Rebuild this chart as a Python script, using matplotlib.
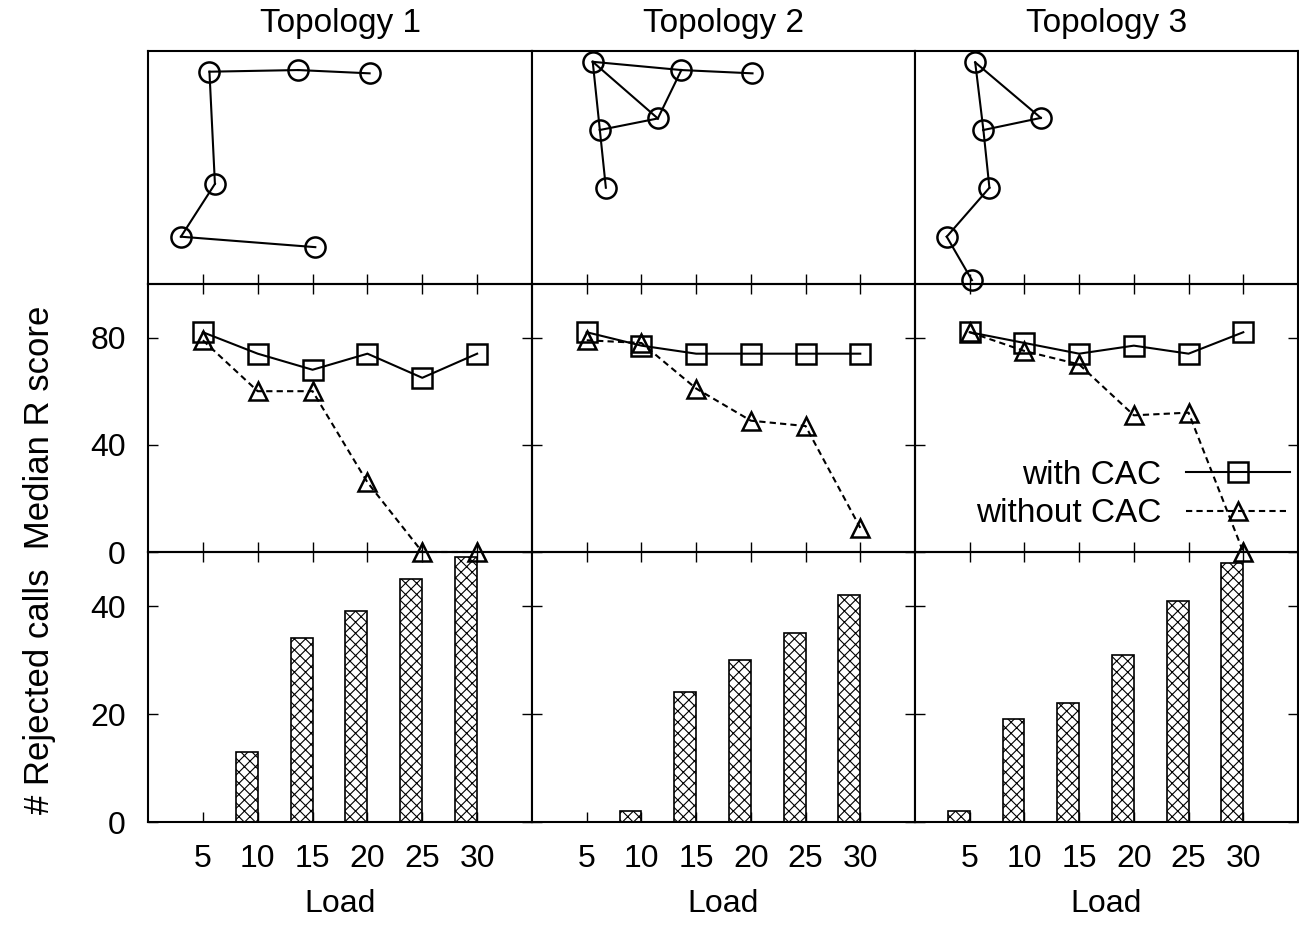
import numpy as np
import matplotlib
matplotlib.use("Agg")
from matplotlib import pyplot as plt

plt.rcParams['font.family'] = ['Liberation Sans', 'DejaVu Sans']
plt.rcParams['font.size'] = 23
plt.rcParams['hatch.linewidth'] = 0.8

loads = [5, 10, 15, 20, 25, 30]
titles = ["Topology 1", "Topology 2", "Topology 3"]

# median R score
with_cac = [
    [82, 74, 68, 74, 65, 74],
    [82, 77, 74, 74, 74, 74],
    [82, 78, 74, 77, 74, 82],
]
without_cac = [
    [79, 60, 60, 26, 0, 0],
    [79, 78, 61, 49, 47, 9],
    [82, 75, 70, 51, 52, 0],
]
# rejected calls
rejected = [
    [0, 13, 34, 39, 45, 49],
    [0, 2, 24, 30, 35, 42],
    [2, 19, 22, 31, 41, 48],
]

# topology node positions (x, y) and links
nodes1 = {"A": (5.6, 19.3), "B": (13.7, 19.45), "C": (20.2, 19.15),
          "D": (6.1, 9.1), "E": (3.0, 4.3), "F": (15.25, 3.35)}
links1 = [("C", "B"), ("B", "A"), ("A", "D"), ("D", "E"), ("E", "F")]
nodes2 = {"P": (5.55, 20.2), "Q": (13.65, 19.45), "R": (20.15, 19.15),
          "S": (11.5, 15.05), "T": (6.2, 14.0), "U": (6.75, 8.75)}
links2 = [("P", "Q"), ("Q", "R"), ("P", "S"), ("S", "Q"), ("P", "T"),
          ("T", "S"), ("T", "U")]
nodes3 = {"G": (5.5, 20.15), "H": (11.5, 15.1), "I": (6.25, 14.0),
          "J": (6.8, 8.75), "K": (2.9, 4.3), "L": (5.2, 0.35)}
links3 = [("G", "H"), ("G", "I"), ("I", "H"), ("I", "J"), ("J", "K"),
          ("K", "L")]
topos = [(nodes1, links1), (nodes2, links2), (nodes3, links3)]

W, H = 1299, 927
fig = plt.figure(figsize=(W / 100, H / 100), dpi=100)

lefts = [148, 532, 915]
rights = [532, 915, 1298]
rows = {"top": (51, 284), "mid": (284, 552), "bot": (552, 822)}


def rect(c, r):
    y0, y1 = rows[r]
    x0, x1 = lefts[c], rights[c]
    return [x0 / W, 1 - y1 / H, (x1 - x0) / W, (y1 - y0) / H]


def style(ax):
    ax.tick_params(direction='in', length=7, width=1, top=True, right=True,
                   labelsize=23)
    for s in ax.spines.values():
        s.set_linewidth(1.5)


for c in range(3):
    # bottom: rejected calls
    axb = fig.add_axes(rect(c, "bot"), zorder=1)
    axb.bar(loads, rejected[c], width=-2, align='edge', facecolor='white',
            edgecolor='black', hatch='xxx', linewidth=1.2)
    axb.set_xlim(0, 35)
    axb.set_ylim(0, 50)
    axb.set_xticks(loads)
    axb.set_yticks([0, 20, 40])
    style(axb)
    axb.tick_params(axis='x', pad=16)
    axb.tick_params(axis='y', pad=16)
    axb.set_xlabel("Load", labelpad=11)
    if c > 0:
        axb.set_yticklabels([])

    # middle: median R score
    axm = fig.add_axes(rect(c, "mid"), zorder=2)
    axm.patch.set_alpha(0)
    axm.plot(loads, with_cac[c], color='black', lw=1.5, marker='s', ms=14,
             mfc='none', mew=1.8, clip_on=False, label="with CAC")
    axm.plot(loads, without_cac[c], color='black', lw=1.5, ls=(0, (3, 2)),
             marker='^', ms=13, mfc='none', mew=1.8, clip_on=False,
             label="without CAC")
    axm.set_xlim(0, 35)
    axm.set_ylim(0, 100)
    axm.set_xticks(loads)
    axm.set_xticklabels([])
    axm.set_yticks([0, 40, 80])
    style(axm)
    axm.tick_params(axis='y', pad=16)
    if c > 0:
        axm.set_yticklabels([])
    if c == 2:
        axm.legend(loc='lower right', bbox_to_anchor=(0.979, 0.085),
                   borderaxespad=0, borderpad=0,
                   frameon=False, markerfirst=False, handlelength=3.13,
                   handletextpad=0.72, labelspacing=0.22, fontsize=24)
        for t in axm.get_legend().get_texts():
            t.set_ha('right')

    # top: topology
    axt = fig.add_axes(rect(c, "top"), zorder=1)
    nodes, links = topos[c]
    for a, b in links:
        axt.plot([nodes[a][0], nodes[b][0]], [nodes[a][1], nodes[b][1]],
                 color='black', lw=1.5, zorder=2)
    xs = [p[0] for p in nodes.values()]
    ys = [p[1] for p in nodes.values()]
    axt.plot(xs, ys, ls='none', marker='o', ms=14.5, mfc='none', mec='black',
             mew=1.8, clip_on=False, zorder=3)
    axt.set_xlim(0, 35)
    axt.set_ylim(0, 233 / 11)
    axt.set_xticks(loads)
    axt.set_xticklabels([])
    axt.set_yticks([])
    style(axt)
    axt.tick_params(axis='x', top=False)
    axt.set_title(titles[c], pad=14, fontsize=24)

fig.text(40 / W, 1 - 560 / H, "# Rejected calls  Median R score",
         rotation=90, ha='center', va='center', fontsize=25)

fig.savefig("out.png", dpi=100)
